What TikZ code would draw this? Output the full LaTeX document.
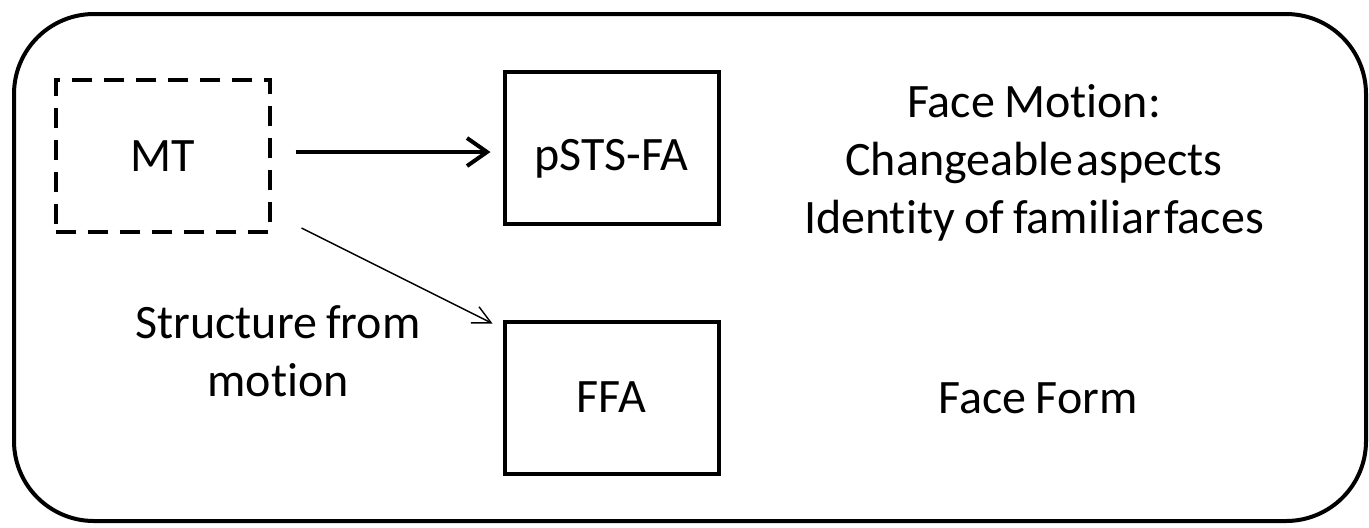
\documentclass[tikz,border=0pt]{standalone}
\usepackage{fontspec}
\setmainfont{Carlito}[Ligatures=NoCommon, WordSpace=0.85]
\usetikzlibrary{positioning,arrows.meta}

\begin{document}
\begin{tikzpicture}[
     x=0.5pt, y=-0.5pt,
     % define styles
     area/.style={
         draw, line width=2pt,
         minimum width=107pt, minimum height=76pt,
         font=\fontsize{24}{29}\selectfont
     },
     guess/.style={ area, dashed, dash pattern=on 10pt off 6pt },
     note/.style={
         align=center,
         font=\fontsize{24}{29}\selectfont
     },
     >={Straight Barb[length=10pt,width=14pt,line width=2pt]}
]
\useasboundingbox (0,0) rectangle (1369,527);
% frame
\draw[line width=2pt, rounded corners=40pt] (14,14) rectangle (1366,521);

% regions
\node[guess] (mt)   at (162.5,156) {MT};
\node[area, text height=26pt] (psts) at (611.5,148) {pSTS-FA};
\node[area]  (ffa)  at (611.5,397.5) {FFA};

% labels
\node[note] (sfm)    at (278,351) {Structure from\\motion};
\node[note] (motion) at (1034,163) {Face Motion:\\Changeable\kern-3pt{} aspects\\Identity of familiar\kern-3pt{} faces};
\node[note] (form)   at (1038,398) {Face Form};

% connections
\draw[->, line width=2pt, shorten <=12pt, shorten >=6pt]
     ([yshift=2pt]mt.east) -- ([yshift=2pt]mt.east -| psts.west);
\draw[-{Straight Barb[length=9pt,width=9pt]}, line width=0.7pt]
     ([xshift=15pt,yshift=3pt]mt.south east) -- ([xshift=-5pt,yshift=-2pt]ffa.north west);

\end{tikzpicture}
\end{document}
